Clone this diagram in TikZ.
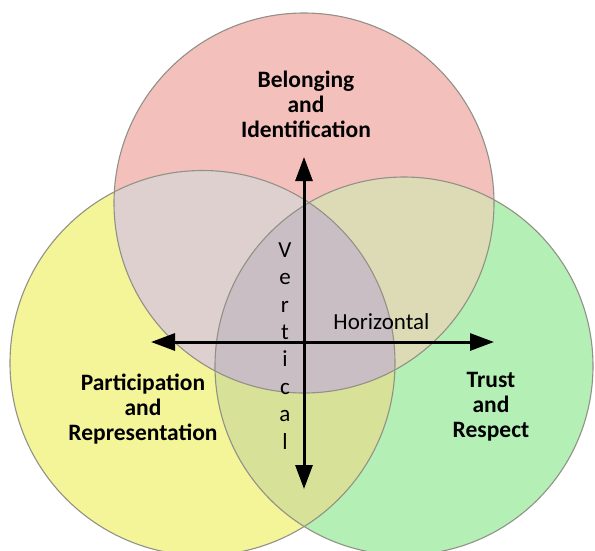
\documentclass[tikz,border=0pt]{standalone}
\usepackage{fontspec}
\setmainfont{Carlito}
\usetikzlibrary{arrows.meta}
\definecolor{cpink}{RGB}{244,192,187}
\definecolor{cyellow}{RGB}{244,244,152}
\definecolor{cgreen}{RGB}{180,240,182}
\definecolor{ctl}{RGB}{222,208,207}
\definecolor{ctr}{RGB}{221,219,182}
\definecolor{clr}{RGB}{215,225,152}
\definecolor{call}{RGB}{201,190,196}
\definecolor{cline}{RGB}{145,145,135}
\tikzset{
  ring/.style={draw=cline, line width=1.1pt},
  axis/.style={line width=3pt, {Triangle[length=24pt,width=17pt]}-{Triangle[length=24pt,width=17pt]}},
  biglabel/.style={font={\fontsize{23.5}{25}\selectfont\bfseries}, align=center, inner sep=0pt, anchor=base},
  smalllabel/.style={font={\fontsize{23}{27.4}\selectfont}, align=center, inner sep=0pt, anchor=base}
}
\begin{document}
\begin{tikzpicture}[x=1pt,y=-1pt]
\useasboundingbox (0,0) rectangle (595,550);
\fill[white] (0,0) rectangle (595,550);
% single fills
\fill[cpink] (304,203) circle[radius=190];
\fill[cyellow] (202.5,363) circle[radius=192.5];
\fill[cgreen] (404,366) circle[radius=189];
% pairwise overlaps
\begin{scope}
  \clip (304,203) circle[radius=190];
  \fill[ctl] (202.5,363) circle[radius=192.5];
\end{scope}
\begin{scope}
  \clip (304,203) circle[radius=190];
  \fill[ctr] (404,366) circle[radius=189];
\end{scope}
\begin{scope}
  \clip (202.5,363) circle[radius=192.5];
  \fill[clr] (404,366) circle[radius=189];
\end{scope}
\begin{scope}
  \clip (304,203) circle[radius=190];
  \clip (202.5,363) circle[radius=192.5];
  \fill[call] (404,366) circle[radius=189];
\end{scope}
% outlines
\draw[ring] (304,203) circle[radius=190];
\draw[ring] (202.5,363) circle[radius=192.5];
\draw[ring] (404,366) circle[radius=189];
% axes
\coordinate (vtop) at (304,157);
\coordinate (vbot) at (304,489);
\coordinate (hleft) at (151,342);
\coordinate (hright) at (494,342);
\draw[axis] (vbot) -- (vtop);
\draw[axis] (hleft) -- (hright);
% labels (base anchor = baseline of last line)
\node[biglabel] (belong) at (306,137) {Belonging\\and\\Identification};
\node[biglabel] (partic) at (143,440) {Participation\\and\\Representation};
\node[biglabel] (trust) at (491,437) {Trust\\and\\Respect};
\node[smalllabel] (horiz) at (381.5,329) {Horizontal};
\node[smalllabel] (vert) at (285,449) {V\\e\\r\\t\\i\\c\\a\\l};
\end{tikzpicture}
\end{document}
